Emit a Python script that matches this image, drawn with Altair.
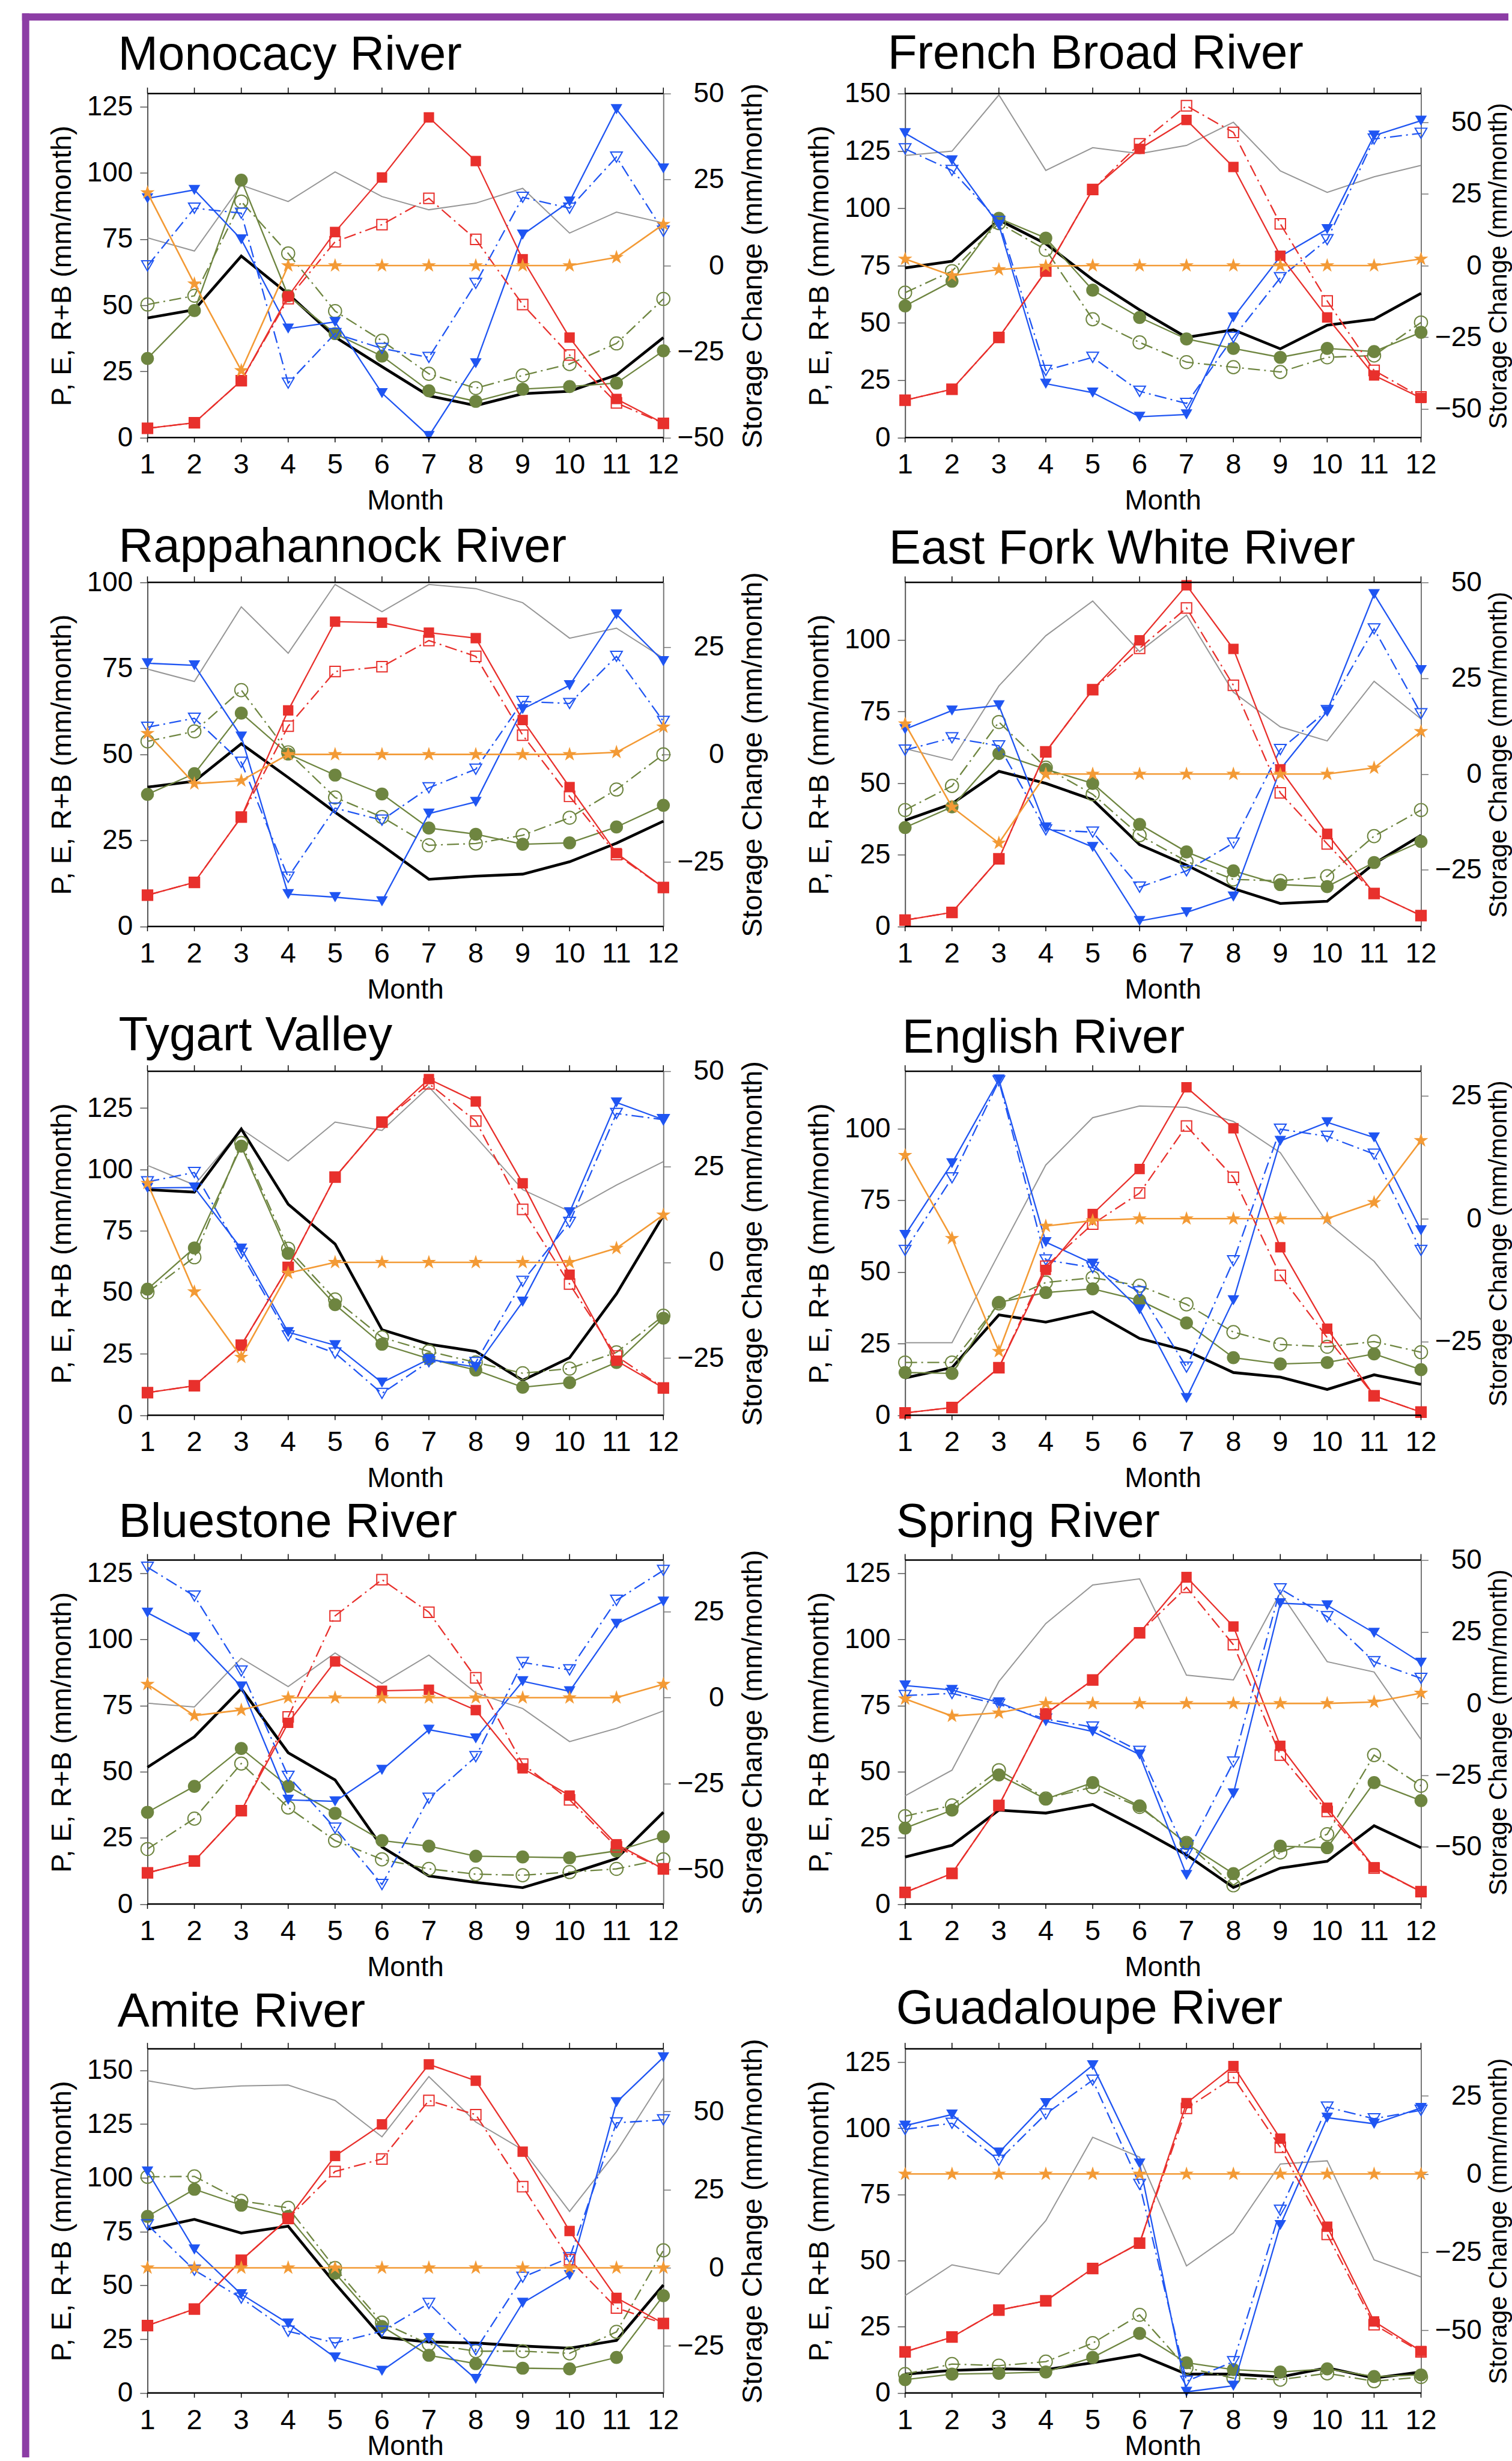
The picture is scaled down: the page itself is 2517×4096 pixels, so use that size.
import altair as alt
import pandas as pd

MONTHS = list(range(1, 13))

RED = "#E8302C"
BLUE = "#1F55F2"
OLIVE = "#6E8540"
ORANGE = "#F39A35"
GRAY = "#969696"
PURPLE = "#8C3DA5"
FONT = "Liberation Sans"
DASH = [20, 7, 3, 7]
STAR = ("M0,-1L0.2245,-0.309L0.951,-0.309L0.3633,0.118L0.588,0.809L0,0.382"
        "L-0.588,0.809L-0.3633,0.118L-0.951,-0.309L-0.2245,-0.309Z")

W = 860.5
H = 573.7

# ---------------- data ----------------
MONOCACY = dict(
    red=[3.5, 5.6, 21.5, 53.4, 77.7, 98.3, 121.0, 104.5, 67.4, 37.8, 14.6, 5.4],
    red_dash=[3.5, 5.6, 21.5, 52.5, 74.0, 80.5, 90.4, 74.9, 50.3, 31.2, 13.1, 5.4],
    blue=[90.4, 93.6, 74.9, 41.2, 43.7, 16.8, 0.6, 28.1, 76.7, 89.2, 124.1, 101.7],
    blue_dash=[64.9, 86.7, 84.8, 20.6, 39.3, 33.7, 30.3, 58.3, 90.8, 86.7, 106.0, 78.0],
    olive=[29.9, 48.0, 97.3, 53.6, 39.3, 30.8, 17.7, 13.7, 18.3, 19.3, 20.6, 32.8],
    olive_dash=[50.3, 53.6, 89.2, 69.6, 47.8, 36.6, 24.1, 18.7, 23.5, 27.8, 35.6, 52.4],
    black=[45.2, 48.3, 68.6, 54.3, 38.0, 26.8, 15.8, 12.1, 16.6, 17.5, 23.7, 37.8],
    gray=[75.5, 70.5, 95.4, 89.2, 100.4, 91.1, 86.1, 88.6, 94.2, 77.3, 85.2, 81.1],
    orange=[21.2, -5.3, -30.5, 0, 0, 0, 0, 0, 0, 0, 2.4, 12.0],
)
FRENCH_BROAD = dict(
    red=[16.3, 21.1, 43.7, 72.6, 108.2, 125.9, 138.5, 118.0, 79.3, 52.4, 27.1, 17.3],
    red_dash=[16.3, 21.1, 43.7, 72.6, 108.2, 128.1, 144.7, 133.1, 93.2, 59.6, 29.3, 17.7],
    blue=[132.7, 120.9, 92.7, 23.5, 19.6, 9.1, 10.1, 52.4, 79.0, 90.9, 131.7, 138.2],
    blue_dash=[125.9, 116.5, 94.2, 29.3, 35.0, 20.2, 14.9, 43.7, 69.7, 86.3, 130.2, 132.7],
    olive=[57.4, 68.2, 95.6, 87.0, 64.3, 52.4, 43.0, 38.9, 35.0, 38.9, 37.5, 45.9],
    olive_dash=[63.2, 72.6, 93.5, 81.9, 51.6, 41.5, 32.9, 30.7, 28.6, 35.0, 35.8, 50.2],
    black=[74.0, 76.9, 94.9, 84.5, 68.9, 55.7, 43.7, 47.0, 38.7, 49.0, 51.6, 62.9],
    gray=[123.0, 124.9, 149.4, 116.5, 126.4, 123.8, 127.4, 137.5, 116.3, 106.9, 113.7, 118.7],
    orange=[2.3, -3.5, -1.4, -0.2, 0, 0, 0, 0, 0, 0, 0, 2.3],
)
RAPPAHANNOCK = dict(
    red=[9.1, 12.8, 31.8, 62.8, 88.6, 88.3, 85.4, 83.8, 60.0, 40.5, 21.3, 11.3],
    red_dash=[9.1, 12.8, 31.8, 58.2, 74.1, 75.5, 83.1, 78.5, 55.6, 37.8, 20.9, 11.3],
    blue=[76.5, 75.9, 55.2, 9.4, 8.5, 7.3, 32.8, 36.2, 63.2, 70.1, 90.7, 77.1],
    blue_dash=[57.9, 60.5, 47.7, 14.3, 34.4, 30.9, 40.3, 45.7, 65.4, 64.8, 78.5, 59.6],
    olive=[38.4, 44.4, 62.0, 50.1, 44.0, 38.5, 28.6, 26.8, 23.9, 24.3, 28.9, 35.2],
    olive_dash=[53.8, 56.7, 68.7, 50.6, 37.5, 31.8, 23.6, 24.1, 26.5, 31.6, 39.8, 50.0],
    black=[40.5, 42.2, 53.1, 43.3, 33.2, 23.6, 13.7, 14.6, 15.2, 18.8, 24.2, 30.6],
    gray=[74.8, 71.2, 92.9, 79.4, 99.4, 91.5, 99.4, 98.2, 94.1, 83.8, 86.7, 78.0],
    orange=[4.9, -6.8, -6.1, 0, 0, 0, 0, 0, 0, 0, 0.5, 6.4],
)
EAST_FORK_WHITE = dict(
    red=[2.2, 4.9, 23.6, 60.9, 82.6, 99.8, 119.0, 96.8, 54.8, 32.3, 11.5, 3.8],
    red_dash=[2.2, 4.9, 23.6, 60.9, 82.6, 97.0, 111.1, 84.1, 46.6, 28.8, 11.5, 3.8],
    blue=[68.8, 75.3, 77.1, 34.5, 27.7, 1.9, 4.9, 10.4, 54.8, 75.1, 115.9, 89.4],
    blue_dash=[61.5, 65.8, 63.0, 33.7, 32.9, 13.7, 19.4, 29.1, 61.7, 75.3, 103.8, 74.2],
    olive=[34.5, 41.7, 60.3, 54.8, 49.9, 35.6, 26.0, 19.4, 14.6, 13.9, 22.3, 29.6],
    olive_dash=[40.6, 49.0, 71.3, 55.4, 46.1, 31.8, 22.7, 16.4, 15.9, 17.5, 31.5, 40.6],
    black=[37.0, 42.8, 54.1, 49.9, 44.2, 28.5, 21.4, 13.2, 8.0, 8.8, 21.9, 31.8],
    gray=[62.0, 58.0, 83.9, 101.4, 113.5, 95.9, 108.6, 81.7, 69.6, 64.7, 85.5, 72.4],
    orange=[13.1, -8.6, -18.0, 0, 0, 0, 0, 0, 0, 0, 1.6, 11.1],
)
TYGART = dict(
    red=[9.2, 12.0, 28.5, 60.2, 96.9, 119.3, 136.8, 127.7, 94.4, 57.2, 22.2, 11.1],
    red_dash=[9.2, 12.0, 28.5, 60.2, 96.9, 119.3, 134.9, 119.7, 83.8, 53.4, 24.1, 11.1],
    blue=[92.5, 92.7, 67.8, 33.8, 28.5, 13.3, 22.8, 19.6, 46.2, 82.6, 127.3, 120.3],
    blue_dash=[95.0, 98.8, 65.9, 32.3, 25.3, 8.9, 21.8, 21.5, 54.5, 78.5, 122.8, 120.3],
    olive=[51.3, 68.1, 109.5, 65.9, 45.0, 28.9, 23.0, 18.4, 11.4, 13.3, 21.5, 39.5],
    olive_dash=[50.0, 64.3, 110.8, 67.8, 47.1, 31.7, 26.0, 21.5, 17.1, 19.0, 25.6, 40.5],
    black=[91.8, 90.8, 116.5, 85.9, 69.7, 34.8, 28.9, 26.0, 14.2, 23.4, 49.4, 81.3],
    gray=[101.7, 93.7, 116.5, 103.5, 119.3, 115.9, 133.6, 113.3, 91.8, 83.0, 93.7, 103.2],
    orange=[20.7, -7.7, -24.8, -2.8, 0, 0, 0, 0, 0, 0, 3.7, 12.4],
)
ENGLISH = dict(
    red=[0.8, 2.7, 16.6, 50.7, 70.2, 85.9, 114.4, 100.1, 58.6, 30.2, 6.8, 1.1],
    red_dash=[0.8, 2.7, 16.6, 52.0, 66.7, 77.5, 100.9, 83.0, 48.8, 27.1, 6.8, 1.1],
    blue=[62.9, 87.9, 117.1, 60.4, 52.9, 36.9, 6.0, 40.1, 95.7, 102.2, 96.9, 64.5],
    blue_dash=[57.5, 82.8, 116.6, 54.2, 51.5, 43.1, 16.8, 53.9, 99.8, 97.3, 91.1, 57.5],
    olive=[14.9, 14.6, 39.4, 42.8, 44.1, 40.1, 32.2, 20.1, 17.9, 18.4, 21.4, 15.9],
    olive_dash=[18.4, 18.4, 39.0, 46.3, 48.0, 45.2, 38.7, 29.0, 24.7, 23.9, 25.7, 22.0],
    black=[13.0, 16.6, 35.0, 32.5, 36.1, 26.8, 22.5, 14.9, 13.3, 9.0, 14.1, 10.8],
    gray=[25.3, 25.3, 56.4, 87.3, 103.8, 107.9, 107.4, 102.5, 91.6, 67.2, 53.7, 33.3],
    orange=[12.9, -4.0, -27.0, -1.5, -0.4, 0, 0, 0, 0, 0, 3.3, 15.9],
)
BLUESTONE = dict(
    red=[11.8, 16.3, 35.3, 68.5, 91.7, 80.6, 81.0, 73.3, 51.3, 41.0, 22.6, 13.3],
    red_dash=[11.8, 16.3, 35.3, 70.7, 108.9, 122.6, 110.3, 85.5, 52.9, 39.4, 21.6, 13.3],
    blue=[110.1, 100.8, 82.2, 39.4, 38.8, 50.7, 65.9, 62.6, 84.2, 80.4, 105.9, 114.3],
    blue_dash=[127.3, 116.4, 88.1, 48.3, 28.7, 7.4, 40.0, 55.7, 91.3, 88.5, 114.8, 126.1],
    olive=[34.7, 44.5, 58.8, 44.5, 34.3, 24.0, 21.9, 18.1, 17.8, 17.5, 20.1, 25.5],
    olive_dash=[20.8, 32.3, 53.1, 36.5, 24.0, 16.9, 13.3, 11.3, 10.9, 12.1, 13.3, 16.9],
    black=[51.7, 63.2, 81.4, 57.2, 46.9, 21.6, 10.6, 8.2, 6.2, 11.5, 17.2, 34.7],
    gray=[75.9, 74.5, 92.9, 82.2, 94.9, 83.4, 94.1, 79.8, 73.9, 61.4, 66.4, 73.0],
    orange=[3.9, -5.2, -3.6, 0, 0, 0, 0, 0, 0, 0, 0, 3.9],
)
SPRING = dict(
    red=[4.4, 11.6, 37.3, 71.9, 84.7, 102.5, 123.6, 104.9, 59.8, 36.4, 13.9, 4.7],
    red_dash=[4.4, 11.6, 37.3, 71.9, 84.7, 102.5, 119.7, 98.0, 56.3, 35.0, 13.6, 4.7],
    blue=[82.6, 80.9, 76.2, 69.1, 65.2, 56.5, 11.0, 41.8, 113.7, 112.9, 102.5, 91.2],
    blue_dash=[78.8, 79.6, 75.5, 69.9, 66.9, 57.7, 19.0, 53.7, 119.1, 108.6, 91.6, 85.3],
    olive=[28.7, 35.5, 48.8, 39.7, 45.9, 37.1, 22.9, 11.5, 21.9, 21.3, 45.9, 39.1],
    olive_dash=[33.2, 37.3, 50.6, 39.9, 44.2, 36.7, 23.1, 7.1, 19.5, 26.4, 56.3, 44.7],
    black=[17.8, 22.2, 35.5, 34.4, 37.6, 28.4, 18.6, 6.3, 13.6, 16.2, 29.6, 21.3],
    gray=[40.9, 50.6, 84.1, 106.0, 120.6, 122.9, 86.5, 84.7, 117.7, 91.6, 87.7, 62.2],
    orange=[1.6, -4.4, -3.3, 0, 0, 0, 0, 0, 0, 0, 0.5, 3.6],
)
AMITE = dict(
    red=[31.3, 39.0, 61.7, 81.1, 110.2, 124.9, 152.8, 145.2, 112.2, 75.3, 44.2, 32.3],
    red_dash=[31.3, 39.0, 61.7, 81.1, 103.0, 108.8, 136.0, 129.4, 95.9, 62.0, 39.5, 32.3],
    blue=[103.0, 66.7, 45.9, 32.3, 16.5, 10.3, 25.5, 6.5, 41.9, 54.8, 135.2, 156.1],
    blue_dash=[78.2, 57.1, 44.1, 28.7, 23.2, 28.7, 41.6, 20.1, 53.8, 62.9, 125.6, 127.0],
    olive=[82.1, 94.7, 87.3, 82.1, 55.7, 30.9, 17.5, 13.6, 11.5, 11.2, 16.5, 45.2],
    olive_dash=[100.5, 100.7, 89.3, 86.1, 58.1, 32.7, 22.7, 19.4, 19.4, 18.4, 28.4, 66.3],
    black=[76.1, 80.7, 74.3, 77.5, 50.9, 25.8, 23.7, 23.2, 21.8, 20.8, 24.4, 50.2],
    gray=[145.2, 141.4, 142.8, 143.2, 136.0, 119.1, 147.1, 126.0, 113.1, 84.4, 112.2, 146.4],
    orange=[0, 0, 0, 0, 0, 0, 0, 0, 0, 0, 0, 0],
)
GUADALOUPE = dict(
    red=[15.5, 21.1, 31.3, 34.8, 47.0, 56.6, 109.5, 123.5, 96.1, 62.8, 27.0, 15.8],
    red_dash=[15.5, 21.1, 31.3, 34.8, 47.0, 56.6, 107.5, 119.2, 92.8, 59.9, 25.8, 15.5],
    blue=[101.0, 105.2, 90.8, 109.5, 123.8, 86.7, 0.4, 2.7, 63.4, 104.0, 101.7, 107.7],
    blue_dash=[99.6, 101.9, 87.9, 105.4, 118.2, 78.8, 4.4, 11.8, 69.0, 108.0, 103.6, 106.8],
    olive=[5.0, 7.1, 7.4, 7.9, 13.4, 22.5, 11.4, 8.8, 7.9, 9.1, 6.2, 6.8],
    olive_dash=[7.1, 10.9, 10.3, 11.8, 18.8, 29.5, 9.5, 5.6, 5.0, 7.4, 4.4, 6.0],
    black=[7.1, 8.5, 9.1, 8.8, 11.4, 14.4, 7.1, 7.1, 6.0, 9.5, 5.6, 7.9],
    gray=[36.8, 48.4, 44.9, 65.1, 96.6, 89.1, 48.0, 60.5, 86.5, 87.7, 50.3, 43.8],
    orange=[0, 0, 0, 0, 0, 0, 0, 0, 0, 0, 0, 0],
)

# col: 0 = left column, 1 = right column; last: bottom row
PANELS = [
    dict(name="Monocacy River", d=MONOCACY, lmax=130, lticks=[0, 25, 50, 75, 100, 125],
         rdom=[-50, 50], rticks=[-50, -25, 0, 25, 50], tdx=-49, tdy=40, col=0, last=False),
    dict(name="French Broad River", d=FRENCH_BROAD, lmax=150, lticks=[0, 25, 50, 75, 100, 125, 150],
         rdom=[-60, 60], rticks=[-50, -25, 0, 25, 50], tdx=-29, tdy=41.5, col=1, last=False),
    dict(name="Rappahannock River", d=RAPPAHANNOCK, lmax=100, lticks=[0, 25, 50, 75, 100],
         rdom=[-40, 40], rticks=[-25, 0, 25], tdx=-48, tdy=34, col=0, last=False),
    dict(name="East Fork White River", d=EAST_FORK_WHITE, lmax=120, lticks=[0, 25, 50, 75, 100],
         rdom=[-39.75, 50], rticks=[-25, 0, 25, 50], tdx=-27, tdy=31, col=1, last=False),
    dict(name="Tygart Valley", d=TYGART, lmax=140, lticks=[0, 25, 50, 75, 100, 125],
         rdom=[-40, 50], rticks=[-25, 0, 25, 50], tdx=-48, tdy=35, col=0, last=False),
    dict(name="English River", d=ENGLISH, lmax=120, lticks=[0, 25, 50, 75, 100],
         rdom=[-40, 30], rticks=[-25, 0, 25], tdx=-5, tdy=30.6, col=1, last=False),
    dict(name="Bluestone River", d=BLUESTONE, lmax=130, lticks=[0, 25, 50, 75, 100, 125],
         rdom=[-60, 40], rticks=[-50, -25, 0, 25], tdx=-48, tdy=38.8, col=0, last=False),
    dict(name="Spring River", d=SPRING, lmax=130, lticks=[0, 25, 50, 75, 100, 125],
         rdom=[-70, 50], rticks=[-50, -25, 0, 25, 50], tdx=-15, tdy=38.8, col=1, last=False),
    dict(name="Amite River", d=AMITE, lmax=160, lticks=[0, 25, 50, 75, 100, 125, 150],
         rdom=[-40, 70], rticks=[-25, 0, 25, 50], tdx=-50, tdy=37.4, col=0, last=True),
    dict(name="Guadaloupe River", d=GUADALOUPE, lmax=130, lticks=[0, 25, 50, 75, 100, 125],
         rdom=[-70, 40], rticks=[-50, -25, 0, 25], tdx=-15, tdy=42.6, col=1, last=True),
]

# key, color, width, dash, shape, filled, size
SERIES = [
    ("gray", GRAY, 2.0, None, None, None, 0),
    ("black", "black", 4.6, None, None, None, 0),
    ("olive_dash", OLIVE, 2.3, DASH, "circle", False, 470),
    ("olive", OLIVE, 2.3, None, "circle", True, 470),
    ("blue_dash", BLUE, 2.3, DASH, "triangle-down", False, 380),
    ("blue", BLUE, 2.3, None, "triangle-down", True, 380),
    ("red_dash", RED, 2.3, DASH, "square", False, 300),
    ("red", RED, 2.3, None, "square", True, 300),
]


def left_axis(ticks):
    return alt.Axis(
        values=ticks, title="P, E, R+B (mm/month)", format="d", labelFont=FONT,
        labelFontSize=46, labelColor="black", labelPadding=12, labelFlush=False,
        labelOverlap=False, tickSize=12.7, tickColor="#555555", tickWidth=1.5,
        domainColor="#555555", domainWidth=2, grid=False, titleFont=FONT,
        titleFontSize=47, titleFontWeight="normal", titleColor="black",
        titleAngle=270, titleBaseline="alphabetic", titleAlign="center",
        titleX=-128, titleY=H / 2,
    )


def right_axis(ticks, col):
    return alt.Axis(
        values=ticks, orient="right", title="Storage Change (mm/month)", format="d",
        labelFont=FONT, labelFontSize=46, labelColor="black", labelAlign="right",
        labelPadding=89, labelFlush=False, labelOverlap=False, tickSize=12,
        tickColor="#777777", tickWidth=1.5, domainColor="#777777", domainWidth=2,
        grid=False, titleFont=FONT, titleFontSize=(47 if col == 0 else 42),
        titleFontWeight="normal", titleColor="black", titleAngle=270,
        titleBaseline="alphabetic", titleAlign="center",
        titleX=(164 if col == 0 else 142), titleY=H / 2,
    )


def make_panel(p, first=False):
    d = p["d"]
    rows = []
    for key, *_ in SERIES:
        for m, v in zip(MONTHS, d[key]):
            rows.append({"month": m, "value": v, "series": key})
    df = pd.DataFrame(rows)
    sdf = pd.DataFrame({"month": MONTHS, "storage": d["orange"]})
    mdf = pd.DataFrame({"month": MONTHS})
    one = pd.DataFrame({"k": [0]})

    xs = alt.Scale(domain=[1, 12], nice=False, zero=False)
    x = alt.X("month:Q", scale=xs, axis=None)
    ls = alt.Scale(domain=[0, p["lmax"]], nice=False, zero=False)
    y_ax = alt.Y("value:Q", scale=ls, axis=left_axis(p["lticks"]))
    y_plain = alt.Y("value:Q", scale=ls, axis=None)

    layers = []
    base = alt.Chart(df)
    first_layer = True
    for key, color, width, dash, shape, filled, size in SERIES:
        f = base.transform_filter(alt.datum.series == key)
        lk = dict(color=color, strokeWidth=width)
        if dash:
            lk["strokeDash"] = dash
        yy = y_ax if first_layer else y_plain
        first_layer = False
        layers.append(f.mark_line(**lk).encode(x=x, y=yy))
        if shape:
            layers.append(
                f.mark_point(shape=shape, filled=filled, color=color, size=size,
                             strokeWidth=2.0, opacity=1).encode(x=x, y=y_plain)
            )

    rs = alt.Scale(domain=p["rdom"], nice=False, zero=False)
    rb = alt.Chart(sdf)
    layers.append(
        rb.mark_line(color=ORANGE, strokeWidth=2.6).encode(
            x=x, y=alt.Y("storage:Q", scale=rs, axis=right_axis(p["rticks"], p["col"])))
    )
    layers.append(
        rb.mark_point(shape=STAR, filled=True, color=ORANGE, size=640, opacity=1).encode(
            x=x, y=alt.Y("storage:Q", scale=rs, axis=None))
    )

    mb = alt.Chart(mdf)
    ob = alt.Chart(one)
    # frame: top line + top ticks, bottom line + bottom ticks
    layers.append(mb.mark_rule(color="black", strokeWidth=1.5).encode(
        x=x, y=alt.value(0), y2=alt.value(-10)))
    layers.append(ob.mark_rule(color="black", strokeWidth=2.5).encode(
        x=alt.value(0), x2=alt.value(W), y=alt.value(0)))
    layers.append(mb.mark_rule(color="black", strokeWidth=1.5).encode(
        x=x, y=alt.value(H), y2=alt.value(H + 8)))
    layers.append(ob.mark_rule(color="black", strokeWidth=2.5).encode(
        x=alt.value(0), x2=alt.value(W), y=alt.value(H)))
    # month tick labels and axis title
    layers.append(mb.mark_text(
        align="center", baseline="alphabetic", font=FONT, fontSize=47, color="black"
    ).encode(x=x, y=alt.value(H + 60), text=alt.Text("month:Q", format="d")))
    layers.append(ob.mark_text(
        text="Month", align="center", baseline="alphabetic", font=FONT, fontSize=46,
        color="black"
    ).encode(x=alt.value(W / 2), y=alt.value(H + (104 if p["last"] else 120))))
    # panel title
    layers.append(ob.mark_text(
        text=p["name"], align="left", baseline="alphabetic", font=FONT,
        fontSize=80, color="black"
    ).encode(x=alt.value(p["tdx"]), y=alt.value(-p["tdy"])))
    if first:
        # purple frame: top and left edges of the figure
        layers.append(ob.mark_rule(color=PURPLE, strokeWidth=12).encode(
            x=alt.value(-209.2), x2=alt.value(2270), y=alt.value(-127.7)))
        layers.append(ob.mark_rule(color=PURPLE, strokeWidth=12).encode(
            x=alt.value(-203.2), y=alt.value(-133.7), y2=alt.value(3942)))
    return alt.layer(*layers).resolve_scale(y="independent").properties(width=W, height=H)


panels = [make_panel(p, first=(i == 0)) for i, p in enumerate(PANELS)]

chart = alt.concat(
    *panels, columns=2, spacing={"row": 241.2, "column": 402.7}, bounds="flush"
).properties(
    padding={"left": 30, "top": 12, "right": 0, "bottom": 0}
).configure(font=FONT).configure_view(stroke=None)

chart.save("out.html", embed_options={"renderer": "svg", "actions": False})
